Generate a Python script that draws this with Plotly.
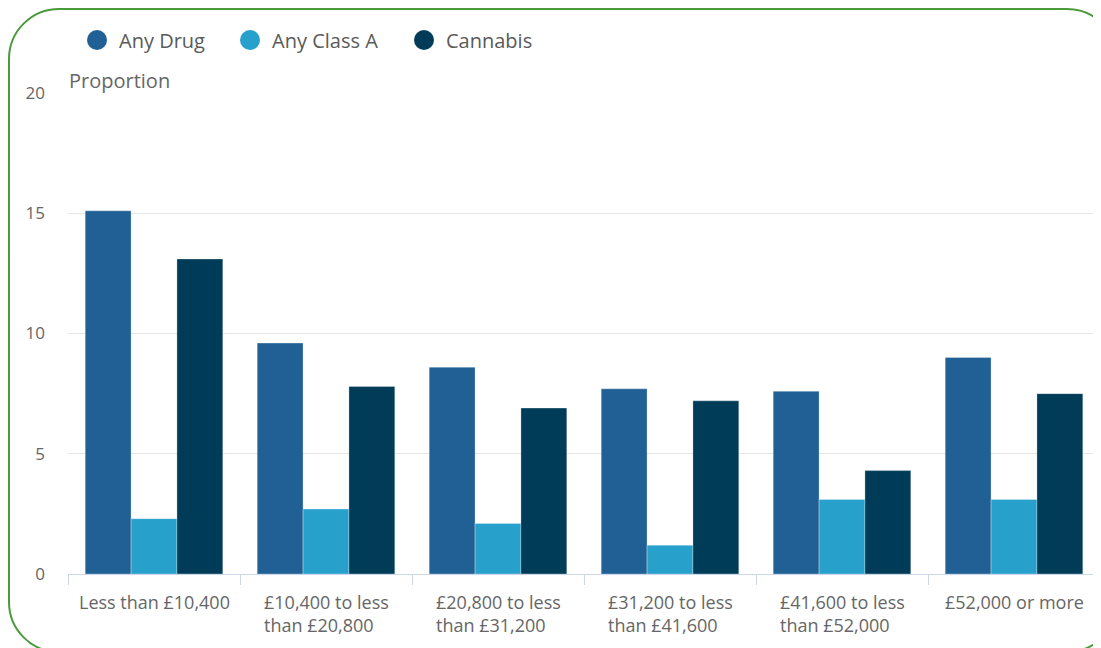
import plotly.graph_objects as go

categories = ["Less than £10,400", "£10,400 to less<br>than £20,800", "£20,800 to less<br>than £31,200",
              "£31,200 to less<br>than £41,600", "£41,600 to less<br>than £52,000", "£52,000 or more"]
any_drug = [15.1, 9.6, 8.6, 7.7, 7.6, 9.0]
any_class_a = [2.3, 2.7, 2.1, 1.2, 3.1, 3.1]
cannabis = [13.1, 7.8, 6.9, 7.2, 4.3, 7.5]
series_names = ["Any Drug", "Any Class A", "Cannabis"]
colors = ["#206095", "#27a0cc", "#003c57"]
y_ticks = [0, 5, 10, 15, 20]

OFF = 8  # page body margin
W, H = 1101 - OFF, 648 - OFF
L, R, T, B = 68 - OFF, 1, 93 - OFF, 74
pw, ph = W - L - R, H - T - B

fig = go.Figure()
for name, vals, c in zip(series_names, [any_drug, any_class_a, cannabis], colors):
    fig.add_trace(go.Bar(x=categories, y=vals, name=name,
                         marker=dict(color=c, line=dict(color="rgba(255,255,255,0.6)", width=0.5)),
                         showlegend=False))

def px(x):  # screen px -> paper
    return (x - OFF - L) / pw
def py(y):
    return (H - B - (y - OFF)) / ph

# category labels, left-aligned lines centred under each group
for cat in categories:
    fig.add_annotation(text=cat, xref="x", yref="paper", x=cat, y=py(588),
                       xanchor="center", yanchor="top", align="left", showarrow=False,
                       font=dict(size=18, color="#666666", family="Open Sans"))

# legend drawn as circles + text
legend_circle_x = [97, 250, 424]
for name, c, cx in zip(series_names, colors, legend_circle_x):
    fig.add_shape(type="circle", xref="paper", yref="paper", xsizemode="pixel", ysizemode="pixel",
                  xanchor=px(cx), yanchor=py(40), x0=-10, x1=10, y0=-10, y1=10,
                  fillcolor=c, line=dict(width=0))
    fig.add_annotation(text=name, xref="paper", yref="paper", x=px(cx + 20), y=py(40),
                       xanchor="left", yanchor="middle", showarrow=False,
                       font=dict(size=20, color="#5a5a5a", family="Open Sans"))

# rounded green frame
x0, x1, y0, y1, r = 9, 1117, 9, 652, 50
k = 0.5523 * r
path = (f"M {px(x0)},{py(y0 + r)} "
        f"C {px(x0)},{py(y0 + r - k)} {px(x0 + r - k)},{py(y0)} {px(x0 + r)},{py(y0)} "
        f"L {px(x1 - r)},{py(y0)} "
        f"C {px(x1 - r + k)},{py(y0)} {px(x1)},{py(y0 + r - k)} {px(x1)},{py(y0 + r)} "
        f"L {px(x1)},{py(y1 - r)} "
        f"C {px(x1)},{py(y1 - r + k)} {px(x1 - r + k)},{py(y1)} {px(x1 - r)},{py(y1)} "
        f"L {px(x0 + r)},{py(y1)} "
        f"C {px(x0 + r - k)},{py(y1)} {px(x0)},{py(y1 - r + k)} {px(x0)},{py(y1 - r)} Z")
fig.add_shape(type="path", path=path, xref="paper", yref="paper",
              line=dict(color="#4a9a3c", width=2), layer="above")

fig.add_annotation(text="Proportion", xref="paper", yref="paper", x=px(67), y=py(80),
                   xanchor="left", yanchor="middle", showarrow=False,
                   font=dict(size=20, color="#666666", family="Open Sans"))

fig.update_layout(
    width=W, height=H,
    margin=dict(l=L, r=R, t=T, b=B, autoexpand=False),
    paper_bgcolor="white", plot_bgcolor="white",
    font=dict(family="Open Sans", color="#666666"),
    barmode="group", bargap=0.2, bargroupgap=0,
    showlegend=False,
)
fig.update_xaxes(showline=True, linecolor="#ccd6eb", linewidth=1, ticks="outside", tickson="boundaries",
                 ticklen=10, tickcolor="#ccd6eb", showticklabels=False, showgrid=False)
fig.update_yaxes(range=[0, 20], tickvals=y_ticks, showgrid=True, gridcolor="#e6e6e6", gridwidth=1,
                 zeroline=False, ticklabelstandoff=22, tickfont=dict(size=17, color="#666666"))

fig.write_html("out.html")
